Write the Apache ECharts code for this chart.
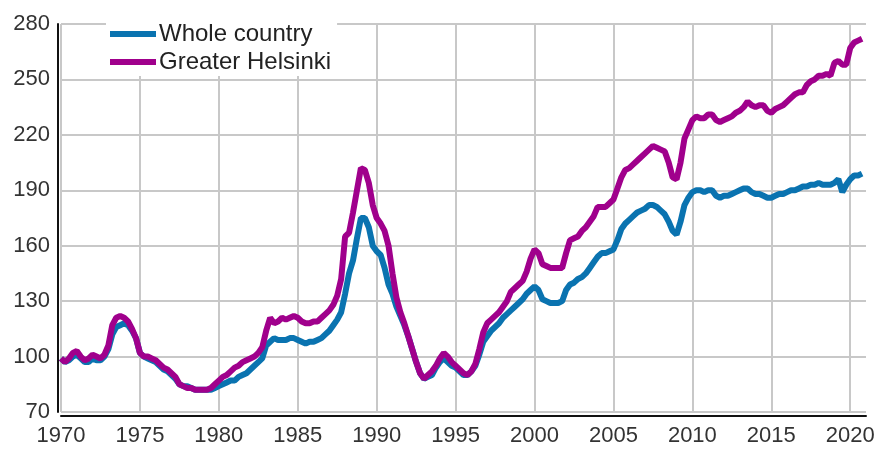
<!DOCTYPE html>
<html>
<head>
    <meta charset="UTF-8">
    <title>House price index</title>
    <script src="https://cdn.jsdelivr.net/npm/echarts@6/dist/echarts.min.js"></script>
    <style>
        *{ margin:0; padding:0; }
        #main{ width:882px; height:452px; background:#fff; }
    </style>
</head>
<body>
<div id="main"></div>
<script>
// quarterly index values, 1970 Q1 .. 2020 Q4
var startYear = 1970;
var seriesNames = ['Whole country', 'Greater Helsinki'];
var wholeCountry = [
    99, 97, 98, 100,   101, 99, 97, 97,     99, 98, 98, 100,    104, 112, 116, 117,
    118, 117, 114, 110, 102, 100, 99, 98,   97, 95, 93, 92,     90, 88, 85, 84,
    84, 83, 82, 82,    82, 82, 82, 83,      84, 85, 86, 87,     87, 89, 90, 91,
    93, 95, 97, 99,    106, 108, 110, 109,  109, 109, 110, 110, 109, 108, 107, 108,
    108, 109, 110, 112, 114, 117, 120, 124, 134, 145, 152, 164, 175, 175, 170, 160,
    157, 155, 148, 139, 134, 127, 122, 117, 111, 104, 97, 91,   88, 89, 90, 94,
    97, 99, 97, 95,    94, 92, 90, 90,      92, 95, 101, 108,   111, 114, 116, 118,
    121, 123, 125, 127, 129, 131, 134, 136, 138, 136, 131, 130, 129, 129, 129, 130,
    136, 139, 140, 142, 143, 145, 148, 151, 154, 156, 156, 157, 158, 163, 169, 172,
    174, 176, 178, 179, 180, 182, 182, 181, 179, 177, 173, 168, 166, 173, 182, 186,
    189, 190, 190, 189, 190, 190, 187, 186, 187, 187, 188, 189, 190, 191, 191, 189,
    188, 188, 187, 186, 186, 187, 188, 188, 189, 190, 190, 191, 192, 192, 193, 193,
    194, 193, 193, 193, 194, 196, 189, 193, 196, 198, 198, 199
];
var greaterHelsinki = [
    99, 97, 99, 102,   103, 100, 98, 99,    101, 100, 99, 101,  106, 117, 121, 122,
    121, 119, 115, 110, 102, 100, 100, 99,  98, 96, 94, 93,     91, 89, 85, 84,
    83, 83, 82, 82,    82, 82, 83, 85,      87, 89, 90, 92,     94, 95, 97, 98,
    99, 100, 102, 105, 114, 121, 118, 119,  121, 120, 121, 122, 121, 119, 118, 118,
    119, 119, 121, 123, 125, 128, 133, 142, 165, 167, 178, 190, 202, 201, 194, 182,
    175, 172, 168, 160, 145, 132, 124, 118, 111, 104, 97, 91,   88, 90, 92, 95,
    99, 102, 100, 97,  95, 93, 91, 90,      92, 96, 104, 113,   118, 120, 122, 124,
    127, 130, 135, 137, 139, 141, 146, 153, 158, 156, 150, 149, 148, 148, 148, 148,
    156, 163, 164, 165, 168, 170, 173, 176, 181, 181, 181, 183, 185, 191, 197, 201,
    202, 204, 206, 208, 210, 212, 214, 213, 212, 211, 205, 197, 196, 205, 218, 223,
    228, 230, 229, 229, 231, 231, 228, 227, 228, 229, 230, 232, 233, 235, 238, 236,
    235, 236, 236, 233, 232, 234, 235, 236, 238, 240, 242, 243, 243, 247, 249, 250,
    252, 252, 253, 252, 259, 260, 258, 258, 267, 270, 271, 272
];
var xTicks = [1970, 1975, 1980, 1985, 1990, 1995, 2000, 2005, 2010, 2015, 2020];
var yTicks = [70, 100, 130, 160, 190, 220, 250, 280];

function toPoints(arr) {
    var out = [];
    for (var i = 0; i < arr.length; i++) {
        out.push([startYear + i / 4, arr[i]]);
    }
    return out;
}

var myChart = echarts.init(document.getElementById('main'));
var font = 'Liberation Sans, Arial, sans-serif';

var option = {
    animation: false,
    backgroundColor: '#fff',
    grid: { left: 61, right: 16, top: 24, bottom: 40 },
    legend: {
        orient: 'vertical',
        left: 106,
        top: 20,
        padding: [2, 6, 2, 4],
        backgroundColor: '#fff',
        icon: 'rect',
        itemWidth: 46,
        itemHeight: 6,
        itemGap: 4,
        textStyle: { fontFamily: font, fontSize: 24, color: '#222', padding: [0, 0, 0, -2] },
        data: seriesNames
    },
    xAxis: {
        type: 'value',
        min: xTicks[0],
        max: 2021,
        interval: 5,
        offset: 4,
        axisLine: { show: true, lineStyle: { color: '#111', width: 2 } },
        axisTick: { show: false },
        splitLine: { show: true, showMaxLine: false, lineStyle: { color: '#c8c8c8', width: 2 } },
        axisLabel: {
            fontFamily: font, fontSize: 22, color: '#333', margin: 9,
            showMaxLabel: false,
            formatter: function (v) { return xTicks.indexOf(v) >= 0 ? String(v) : ''; }
        }
    },
    yAxis: {
        type: 'value',
        min: yTicks[0],
        max: yTicks[yTicks.length - 1],
        interval: 30,
        offset: 3,
        axisLine: { show: true, lineStyle: { color: '#111', width: 2 } },
        axisTick: { show: false },
        splitLine: { show: true, lineStyle: { color: '#c8c8c8', width: 2 } },
        axisLabel: { fontFamily: font, fontSize: 22, color: '#333', margin: 8 }
    },
    series: [
        {
            name: seriesNames[0],
            type: 'line',
            data: toPoints(wholeCountry),
            showSymbol: false,
            color: '#0a73b0',
            lineStyle: { width: 6, color: '#0a73b0' },
            z: 2
        },
        {
            name: seriesNames[1],
            type: 'line',
            data: toPoints(greaterHelsinki),
            showSymbol: false,
            color: '#a0008c',
            lineStyle: { width: 6, color: '#a0008c' },
            z: 3
        }
    ]
};

myChart.setOption(option);
</script>
</body>
</html>
